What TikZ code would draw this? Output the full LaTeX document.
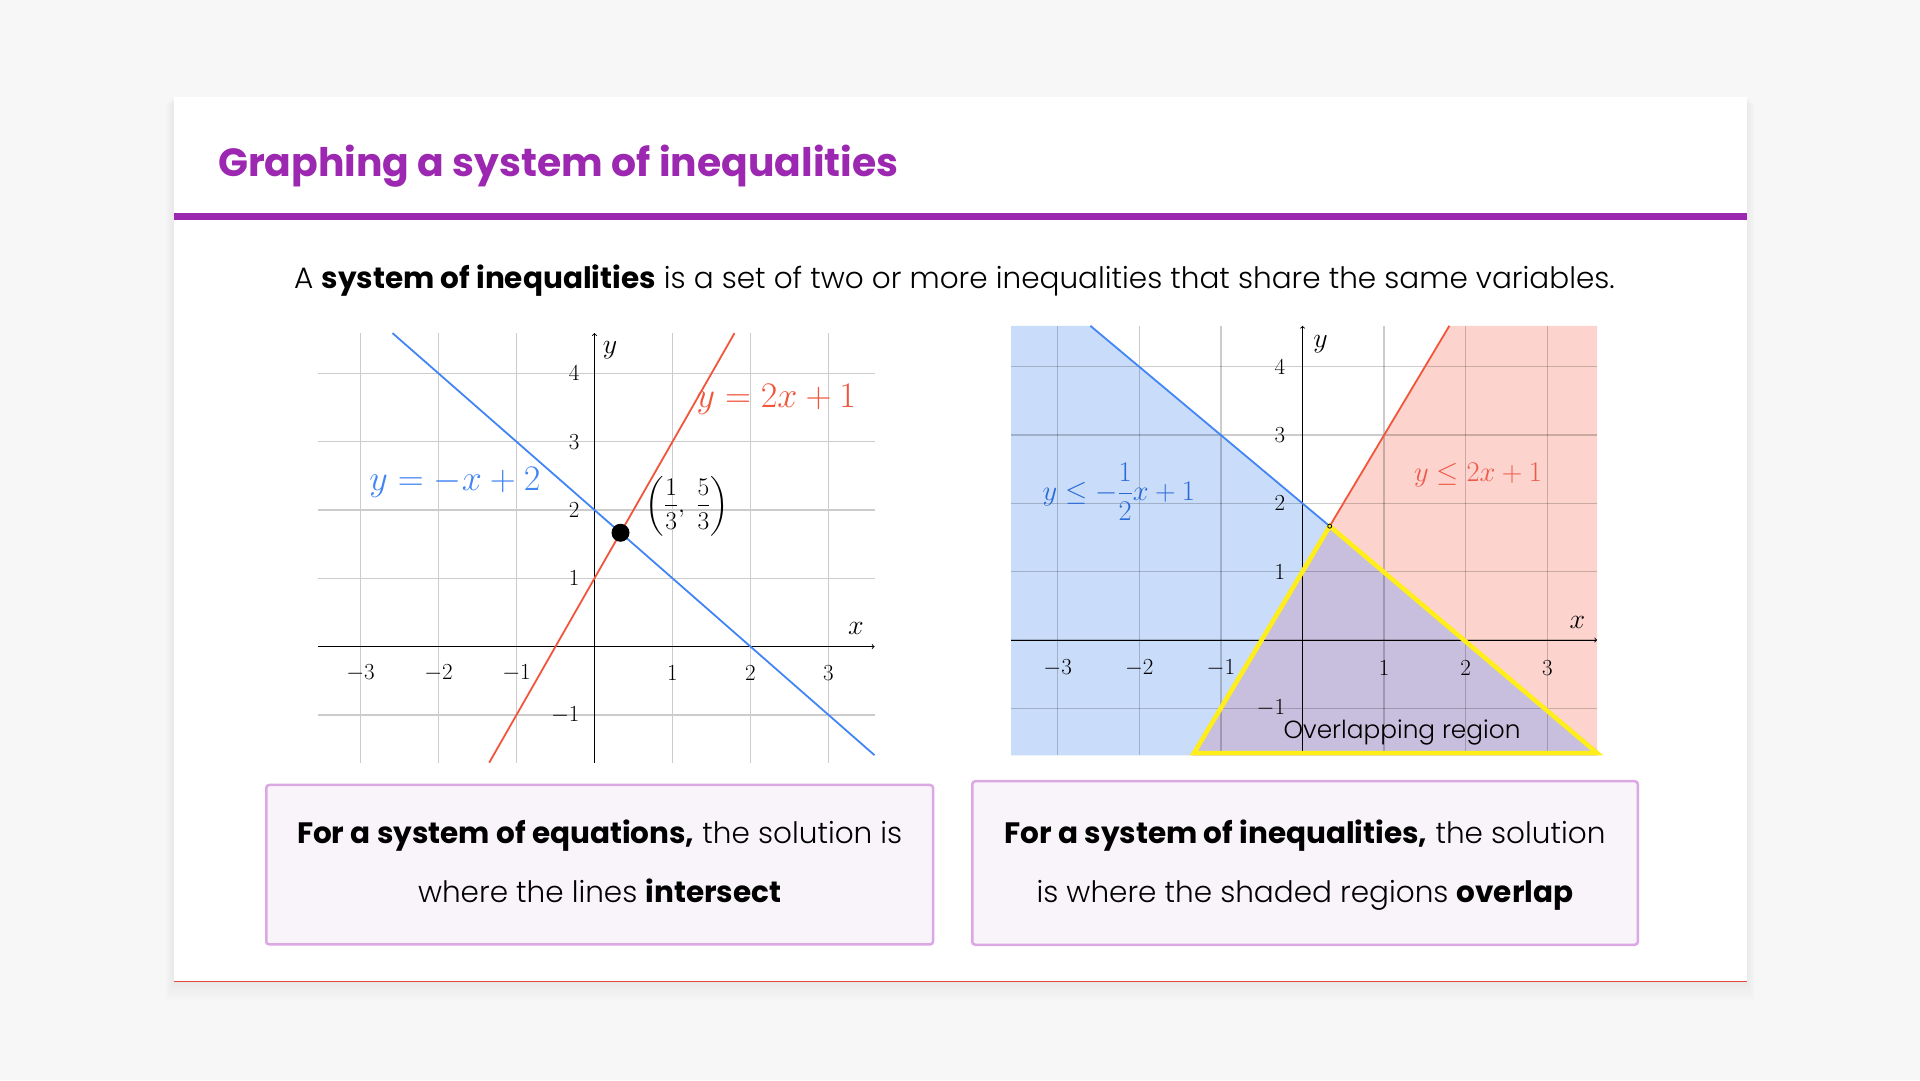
\RequirePackage{fix-cm}
\documentclass[tikz,border=0pt]{standalone}
\usepackage{amsmath}
\usepackage[no-math]{fontspec}
\setmainfont{Poppins}[UprightFont=* Light,BoldFont=* Bold]

\definecolor{slidebg}{HTML}{F7F7F7}
\definecolor{titlepurple}{HTML}{9C27B0}
\definecolor{lineblue}{HTML}{4285F4}
\definecolor{linered}{HTML}{F2553A}
\definecolor{labelblue}{HTML}{2B6AD6}
\definecolor{labelred}{HTML}{EE5A48}
\definecolor{fillblue}{HTML}{C9DDFA}
\definecolor{fillred}{HTML}{FDD3CE}
\definecolor{fillboth}{HTML}{C8BEDD}
\definecolor{gridgray}{HTML}{CCCCCC}
\definecolor{boxborder}{HTML}{DCA8E4}
\definecolor{boxfill}{HTML}{F9F4FA}
\definecolor{hiyellow}{HTML}{FFEE1A}
\definecolor{cardred}{HTML}{E5473C}

\begin{document}
\begin{tikzpicture}[x=1pt,y=1pt,
    ticklbl/.style={font=\fontsize{23}{23}\selectfont, inner sep=0pt},
    axislbl/.style={font=\fontsize{28}{28}\selectfont, inner sep=0pt},
    gridline/.style={gridgray, line width=1.3pt},
    infobox/.style={draw=boxborder, fill=boxfill, line width=2.5pt, rounded corners=3pt, inner sep=0pt},
    bodytext/.style={font=\fontsize{29.5}{32}\selectfont, inner sep=0pt, anchor=base}]

    % slide and card
    \fill[slidebg] (0,0) rectangle (1920,1080);
    \foreach \k in {1,...,14}
        \fill[black,opacity=0.004] ({173.5-0.6*\k},{98.5-1.4*\k}) rectangle ({1746.5+0.6*\k},{983-0.5*\k});
    \fill[white] (173.5,98.5) rectangle (1746.5,983);
    \draw[cardred,line width=1.5pt] (173.5,98.5) -- (1746.5,98.5);

    \node[anchor=base west,inner sep=0pt,text=titlepurple,font=\fontsize{39.3}{40}\selectfont\bfseries]
        (title) at (218,903.3) {Graphing a system of inequalities};
    \draw[titlepurple,line width=6.5pt] (173.5,863.5) -- (1746.5,863.5);
    \node[bodytext] (intro) at (954.5,791)
        {A \textbf{system of inequalities} is a set of two or more inequalities that share the same variables.};

    % left graph: two lines crossing
    \begin{scope}[shift={(594.5,433.4)},x=78pt,y=68.3pt]
        \foreach \i in {-3,...,3}
            \draw[gridline] (\i,-1.7) -- (\i,4.59);
        \foreach \j in {-1,...,4}
            \draw[gridline] (-3.54,\j) -- (3.59,\j);
        \draw[->,line width=0.9pt] (-3.54,0) -- (3.59,0);
        \draw[->,line width=0.9pt] (0,-1.7) -- (0,4.59);
        \node[axislbl] (lx) at (3.35,0.27) {$x$};
        \node[axislbl] (ly) at (0.2,4.34) {$y$};
        \foreach \i in {-3,-2,-1,1,2,3}
            \node[ticklbl] (lxt\i) at (\i,-0.39) {$\i$};
        \foreach \j in {-1,1,2,3,4}
            \node[ticklbl,anchor=east] (lyt\j) at (-0.19,\j) {$\j$};

        \draw[domain=-2.59:3.59,variable=\x,lineblue,line width=1.8pt]
            plot (\x,{-\x+2});
        \draw[domain=-1.35:1.795,variable=\x,linered,line width=1.8pt]
            plot (\x,{2*\x+1});
        \coordinate (cross) at (1/3,5/3);
        \fill (cross) circle[radius=9pt];

        \node[text=linered,font=\fontsize{36}{36}\selectfont,inner sep=0pt] (redeq) at (2.33,3.62) {$y=2x+1$};
        \node[text=lineblue,font=\fontsize{36}{36}\selectfont,inner sep=0pt] (blueeq) at (-1.79,2.4) {$y=-x+2$};
        \node[font=\fontsize{25.5}{25.5}\selectfont,inner sep=0pt] (crosslbl) at (1.19,2.06)
            {$\left(\dfrac{1}{3},\ \dfrac{5}{3}\right)$};
    \end{scope}

    % right graph: shaded half planes
    \begin{scope}[shift={(1302.5,440)},x=81.6pt,y=68.3pt]
        \fill[fillblue] (-3.57,-1.69) -- (-3.57,4.6) -- (-2.6,4.6) -- (3.61,-1.61) -- (3.61,-1.69) -- cycle;
        \fill[fillred] (-1.345,-1.69) -- (1.8,4.6) -- (3.61,4.6) -- (3.61,-1.69) -- cycle;
        \fill[fillboth] (1/3,5/3) -- (3.61,-1.61) -- (3.61,-1.69) -- (-1.345,-1.69) -- cycle;
        \foreach \i in {-3,...,3}
            \draw[black,opacity=0.2,line width=1.3pt] (\i,-1.69) -- (\i,4.6);
        \foreach \j in {-1,...,4}
            \draw[black,opacity=0.2,line width=1.3pt] (-3.57,\j) -- (3.61,\j);
        \draw[->,line width=0.9pt] (-3.57,0) -- (3.61,0);
        \draw[->,line width=0.9pt] (0,-1.69) -- (0,4.6);
        \node[axislbl] (rx) at (3.37,0.25) {$x$};
        \node[axislbl] (ry) at (0.22,4.33) {$y$};
        \foreach \i in {-3,-2,-1,1,2,3}
            \node[ticklbl] (rxt\i) at (\i,-0.41) {$\i$};
        \foreach \j in {-1,1,2,3,4}
            \node[ticklbl,anchor=east] (ryt\j) at (-0.21,\j) {$\j$};

        \coordinate (corner) at (1/3,5/3);
        \draw[domain=-2.6:1/3,variable=\x,lineblue,line width=1.8pt]
            plot (\x,{-\x+2});
        \draw[domain=1/3:1.8,variable=\x,linered,line width=1.8pt]
            plot (\x,{2*\x+1});
        \draw[hiyellow,line width=4.5pt] (corner) -- (-1.33,-1.655) -- (3.61,-1.655) -- cycle;
        \draw[line width=0.8pt] (corner) circle[radius=2pt];

        \node[text=labelblue,font=\fontsize{28.5}{28.5}\selectfont,inner sep=0pt] (blueineq) at (-2.25,2.17)
            {$y\le-\dfrac{1}{2}x+1$};
        \node[text=labelred,font=\fontsize{28.5}{28.5}\selectfont,inner sep=0pt] (redineq) at (2.15,2.42)
            {$y\le 2x+1$};
        \node[anchor=base,inner sep=0pt,font=\fontsize{24.8}{25}\selectfont] (overlap) at (1.22,-1.44)
            {Overlapping region};
    \end{scope}

    % bottom boxes
    \node[infobox,minimum width=666.8pt,minimum height=159.5pt] (eqbox) at (599.65,215.3) {};
    \node[infobox,minimum width=665.5pt,minimum height=163.5pt] (ineqbox) at (1305,217) {};
    \node[bodytext] (eqa) at (599.65,236.3) {\textbf{For a system of equations,} the solution is};
    \node[bodytext] (eqb) at (599.65,177.5) {where the lines \textbf{intersect}};
    \node[bodytext] (ineqa) at (1305,236.3) {\textbf{For a system of inequalities,} the solution};
    \node[bodytext] (ineqb) at (1305,177.5) {is where the shaded regions \textbf{overlap}};
\end{tikzpicture}
\end{document}
